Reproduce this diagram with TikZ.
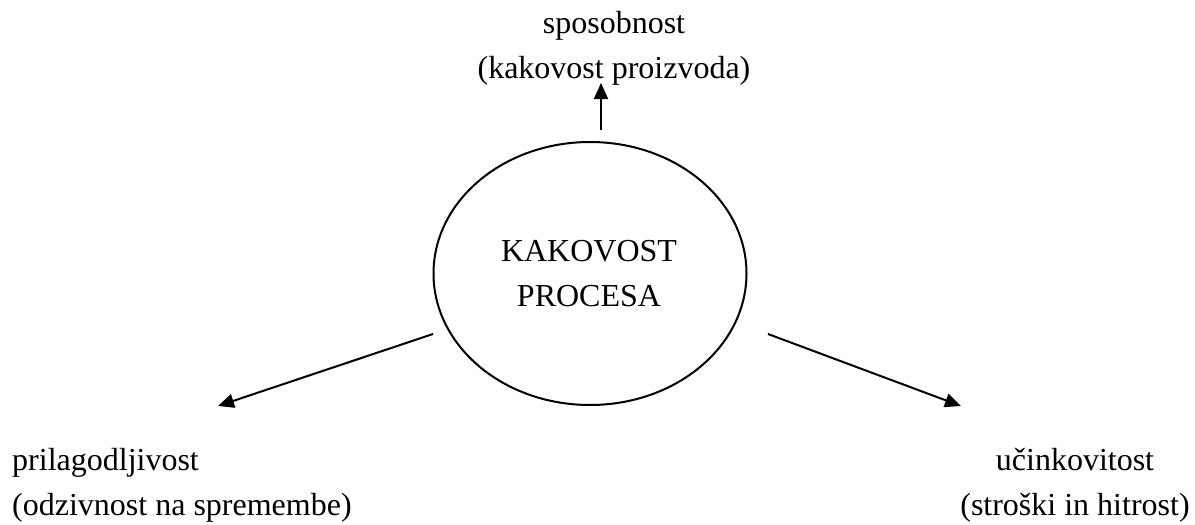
\documentclass[tikz,border=0pt]{standalone}
\usepackage{fontspec}
\setmainfont{Liberation Serif}
\usepackage{tikz}
\usetikzlibrary{arrows.meta,shapes.geometric}

\begin{document}
\begin{tikzpicture}[
  x=1pt, y=-1pt,
  lbl/.style={
    inner sep=0pt,
    font=\fontsize{32}{45}\selectfont
  },
  arr/.style={-{Triangle[length=16pt,width=14pt]}, line width=2pt},
  proc/.style={
    draw,
    ellipse,
    line width=2pt,
    minimum width=313pt,
    minimum height=263pt
  }
]
\useasboundingbox (0,0) rectangle (1195,525);

\node[proc] (kp) at (590,273.5) {};
\node[lbl, align=center, anchor=base] (kptxt) at (589,306) {KAKOVOST\\PROCESA};

\node[lbl, align=center, anchor=base] (spos) at (614,78) {sposobnost\\(kakovost proizvoda)};
\node[lbl, align=left, anchor=base west] (pril) at (12,515) {prilagodljivost\\(odzivnost na spremembe)};
\node[lbl, align=center, anchor=base] (ucin) at (1075,515) {učinkovitost\\(stroški in hitrost)};

\coordinate (upS) at (601,130);
\coordinate (upE) at (601,83);
\coordinate (lfS) at (433,334);
\coordinate (lfE) at (218,406);
\coordinate (rtS) at (768,334);
\coordinate (rtE) at (961,406);

\draw[arr] (upS) -- (upE);
\draw[arr] (lfS) -- (lfE);
\draw[arr] (rtS) -- (rtE);
\end{tikzpicture}
\end{document}
